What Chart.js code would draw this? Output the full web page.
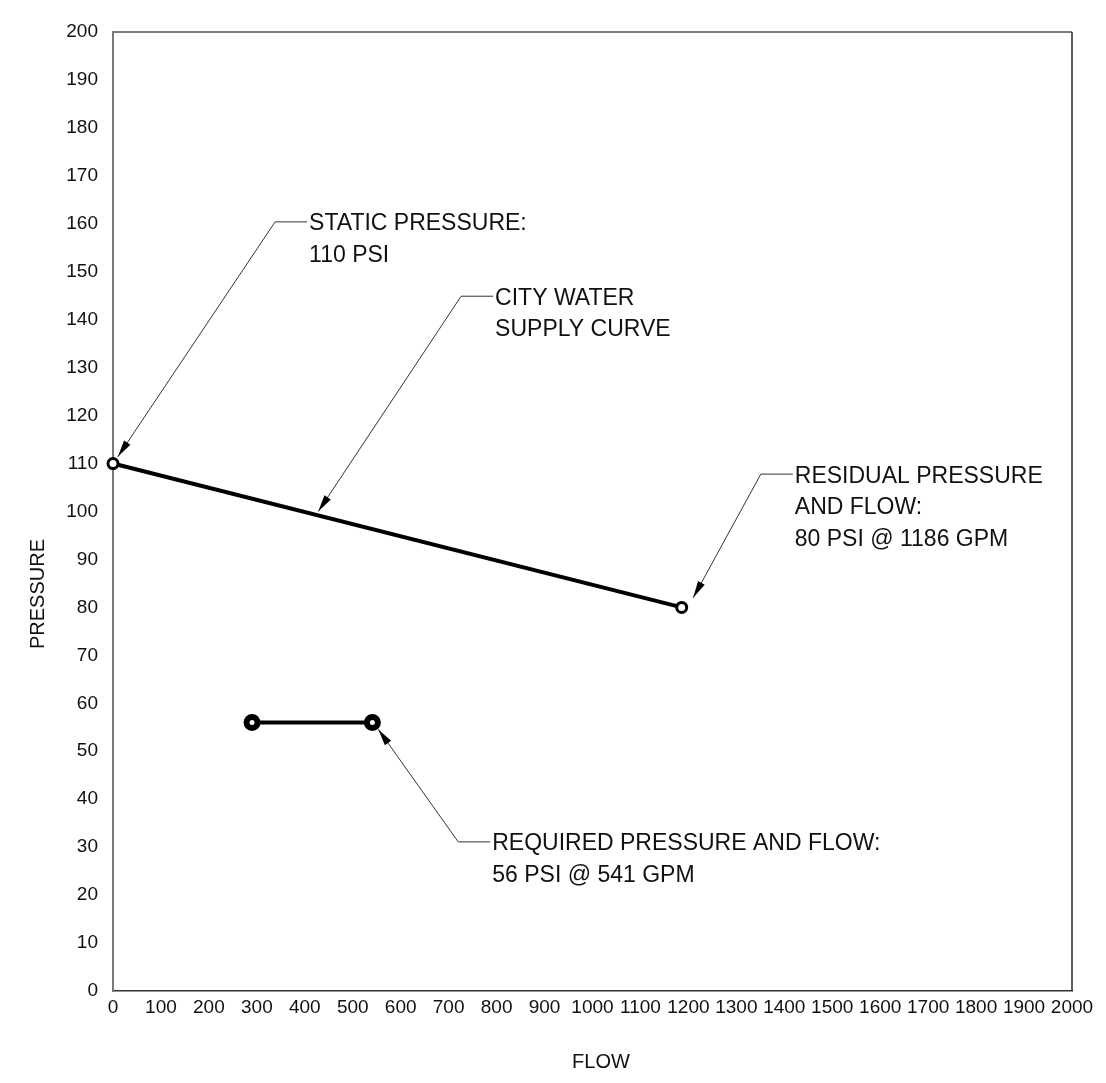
<!DOCTYPE html>
<html>
<head>
<meta charset="utf-8">
<script src="https://cdn.jsdelivr.net/npm/chart.js@4.4.1/dist/chart.umd.min.js"></script>
<style>
  body { margin: 0; background: #fff; }
  #wrap { width: 1106px; height: 1083px; }
</style>
</head>
<body>
<div id="wrap"><canvas id="canvas"></canvas></div>
<script>
// DATA
var supplyFlow = [0, 1186];
var supplyPressure = [110, 80];
var requiredFlow = [290, 541];
var requiredPressure = [56, 56];

var flowRange = [0, 2000];
var flowStep = 100;
var pressureRange = [0, 200];
var pressureStep = 10;

// callout labels, placed in flow / pressure units
var callouts = [
   { text: ['STATIC PRESSURE:', '110 PSI'], tip: [10, 111.4], elbow: [338, 160.4] },
   { text: ['CITY WATER', 'SUPPLY CURVE'], tip: [428, 100.0], elbow: [726, 144.9] },
   { text: ['RESIDUAL PRESSURE', 'AND FLOW:', '80 PSI @ 1186 GPM'], tip: [1210, 82.0], elbow: [1351, 107.8] },
   { text: ['REQUIRED PRESSURE AND FLOW:', '56 PSI @ 541 GPM'], tip: [553, 54.6], elbow: [720, 31.1] }
];

function toPoints(xs, ys) {
   return xs.map(function (x, i) { return { x: x, y: ys[i] }; });
}

var FONT = "'Liberation Sans', Arial, Helvetica, sans-serif";

var drawingPlugin = {
   id: 'drawing',
   afterDraw: function (chart) {
      var ctx = chart.ctx;
      var a = chart.chartArea;
      var xs = chart.scales.x, ys = chart.scales.y;
      ctx.save();

      // top and right edges of the frame
      ctx.lineWidth = 2;
      ctx.strokeStyle = '#7a7a7a';
      ctx.beginPath();
      ctx.moveTo(a.left, a.top);
      ctx.lineTo(a.right, a.top);
      ctx.stroke();
      ctx.strokeStyle = '#2a2a2a';
      ctx.lineWidth = 1.5;
      ctx.beginPath();
      ctx.moveTo(a.right, a.top);
      ctx.lineTo(a.right, a.bottom);
      ctx.stroke();

      // callouts
      callouts.forEach(function (c) {
         var tx = xs.getPixelForValue(c.tip[0]), ty = ys.getPixelForValue(c.tip[1]);
         var ex = xs.getPixelForValue(c.elbow[0]), ey = ys.getPixelForValue(c.elbow[1]);
         ctx.strokeStyle = '#333';
         ctx.lineWidth = 1;
         ctx.beginPath();
         ctx.moveTo(ex + 32, ey);
         ctx.lineTo(ex, ey);
         ctx.lineTo(tx, ty);
         ctx.stroke();

         var ang = Math.atan2(ty - ey, tx - ex);
         var len = 17, hw = 3.8;
         var bx = tx - Math.cos(ang) * len, by = ty - Math.sin(ang) * len;
         ctx.fillStyle = '#000';
         ctx.beginPath();
         ctx.moveTo(tx, ty);
         ctx.lineTo(bx + Math.sin(ang) * hw, by - Math.cos(ang) * hw);
         ctx.lineTo(bx - Math.sin(ang) * hw, by + Math.cos(ang) * hw);
         ctx.closePath();
         ctx.fill();

         ctx.font = '23px ' + FONT;
         ctx.textAlign = 'left';
         ctx.textBaseline = 'alphabetic';
         ctx.fillStyle = '#111';
         c.text.forEach(function (line, i) {
            ctx.fillText(line, ex + 34, ey + 8.5 + i * 31.5);
         });
      });

      // axis titles
      ctx.fillStyle = '#111';
      ctx.font = '20px ' + FONT;
      ctx.textAlign = 'center';
      ctx.textBaseline = 'middle';
      ctx.fillText('FLOW', 601, 1062);
      ctx.translate(38, 594);
      ctx.rotate(-Math.PI / 2);
      ctx.fillText('PRESSURE', 0, 0);
      ctx.restore();
   }
};

window.onload = function () {
   var ctx = document.getElementById('canvas').getContext('2d');
   window.myChart = new Chart(ctx, {
      type: 'line',
      data: {
         datasets: [{
            label: 'City water supply curve',
            data: toPoints(supplyFlow, supplyPressure),
            borderColor: '#000',
            borderWidth: 4,
            pointRadius: 5,
            pointBorderWidth: 3,
            pointBackgroundColor: '#fff',
            pointBorderColor: '#000',
            clip: false
         }, {
            label: 'Required pressure and flow',
            data: toPoints(requiredFlow, requiredPressure),
            borderColor: '#000',
            borderWidth: 4,
            pointRadius: 5.5,
            pointBorderWidth: 6,
            pointBackgroundColor: '#fff',
            pointBorderColor: '#000',
            clip: false
         }]
      },
      options: {
         responsive: true,
         maintainAspectRatio: false,
         animation: false,
         layout: {
            padding: { top: 32, right: 34, left: 0, bottom: 0 }
         },
         plugins: {
            legend: { display: false },
            title: { display: false },
            tooltip: { enabled: false }
         },
         scales: {
            x: {
               type: 'linear',
               min: flowRange[0],
               max: flowRange[1],
               grid: { display: false, drawTicks: false },
               border: { display: true, color: '#333', width: 1.5 },
               ticks: {
                  stepSize: flowStep,
                  autoSkip: false,
                  maxRotation: 0,
                  padding: 5,
                  color: '#111',
                  font: { family: FONT, size: 19 },
                  callback: function (v) { return String(v); }
               },
               afterFit: function (scale) { scale.height = 92; }
            },
            y: {
               type: 'linear',
               min: pressureRange[0],
               max: pressureRange[1],
               grid: { display: false, drawTicks: false },
               border: { display: true, color: '#7a7a7a', width: 2 },
               ticks: {
                  stepSize: pressureStep,
                  padding: 15,
                  color: '#111',
                  font: { family: FONT, size: 19 },
                  callback: function (v) { return String(v); }
               },
               afterFit: function (scale) { scale.width = 113; }
            }
         }
      },
      plugins: [drawingPlugin]
   });
};
</script>
</body>
</html>
